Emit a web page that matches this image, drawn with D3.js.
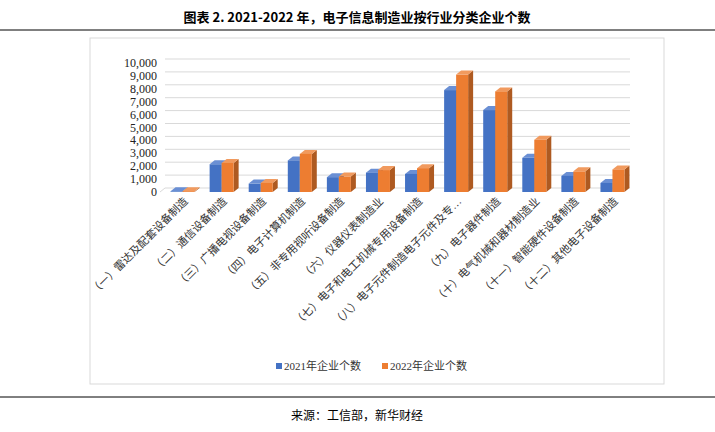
<!DOCTYPE html><html><head><meta charset="utf-8"><script src="https://cdn.jsdelivr.net/npm/d3@7"></script>
<style>body{margin:0;background:#fff}text{font-family:"Liberation Serif","Noto Sans CJK SC",serif}</style></head><body>
<svg id="c" width="715" height="432"></svg>
<script>
const categories=["（一）雷达及配套设备制造","（二）通信设备制造","（三）广播电视设备制造","（四）电子计算机制造","（五）非专用视听设备制造","（六）仪器仪表制造业","（七）电子和电工机械专用设备制造","（八）电子元件制造电子元件及专…","（九）电子器件制造","（十）电气机械和器材制造业","（十一）智能硬件设备制造","（十二）其他电子设备制造"];
const v2021=[50,2150,650,2450,1150,1500,1400,7900,6350,2650,1250,700];
const v2022=[60,2250,700,2950,1200,1700,1850,9100,7800,4050,1600,1750];
const ticks=[0,1000,2000,3000,4000,5000,6000,7000,8000,9000,10000];
const svg=d3.select("#c");
svg.append("text").attr("x",357).attr("y",22).attr("text-anchor","middle").attr("font-size",13).attr("font-weight","bold").style("font-family","Noto Sans CJK SC").text("图表 2.  2021-2022 年，电子信息制造业按行业分类企业个数");
svg.append("line").attr("x1",0).attr("x2",715).attr("y1",30).attr("y2",30).attr("stroke","#000");
svg.append("line").attr("x1",0).attr("x2",715).attr("y1",397).attr("y2",397).attr("stroke","#000");
svg.append("text").attr("x",357).attr("y",420).attr("text-anchor","middle").attr("font-size",12).style("font-family","Noto Sans CJK SC").text("来源：工信部，新华财经");
svg.append("rect").attr("x",90).attr("y",38).attr("width",574).attr("height",346).attr("fill","none").attr("stroke","#d9d9d9");
const y=d3.scaleLinear().domain([0,10000]).range([192,63]);
const x=d3.scaleBand().domain(categories).range([163,632]);
const dx=5,dy=-4;
svg.append("g").selectAll("line").data(ticks).join("line").attr("x1",165).attr("x2",630).attr("y1",d=>y(d)+dy).attr("y2",d=>y(d)+dy).attr("stroke","#d9d9d9");
svg.append("line").attr("x1",160).attr("x2",165).attr("y1",y(0)).attr("y2",y(0)+dy).attr("stroke","#d9d9d9");
svg.append("g").selectAll("text").data(ticks).join("text").attr("x",157).attr("y",d=>y(d)+4).attr("text-anchor","end").attr("font-size",12).attr("fill","#222").text(d=>d3.format(",")(d));
const bw=12;
function bars(vals,off,cf,cs,ct){
 const g=svg.append("g");
 vals.forEach((v,i)=>{
  const x0=x(categories[i])+x.bandwidth()/2-bw+off, y0=y(v), yb=y(0);
  g.append("path").attr("d",`M${x0+bw},${y0}L${x0+bw+dx},${y0+dy}L${x0+bw+dx},${yb+dy}L${x0+bw},${yb}Z`).attr("fill",cs);
  g.append("path").attr("d",`M${x0},${y0}L${x0+dx},${y0+dy}L${x0+bw+dx},${y0+dy}L${x0+bw},${y0}Z`).attr("fill",ct);
  g.append("rect").attr("x",x0).attr("y",y0).attr("width",bw).attr("height",yb-y0).attr("fill",cf);
 });
}
bars(v2021,0,"#4472c4","#2f528f","#6a8fd4");
bars(v2022,bw,"#ed7d31","#ae5a21","#f19a5e");
svg.append("g").selectAll("text").data(categories).join("text")
 .attr("transform",d=>`translate(${x(d)+x.bandwidth()/2+6},${202}) rotate(-45)`).attr("text-anchor","end").attr("font-size",11).attr("fill","#333").text(d=>d);
const lg=svg.append("g").attr("font-size",11);
[["2021年企业个数","#4472c4",276],["2022年企业个数","#ed7d31",382]].forEach(([t,c,lx])=>{
 lg.append("rect").attr("x",lx).attr("y",363).attr("width",6).attr("height",6).attr("fill",c);
 lg.append("text").attr("x",lx+8).attr("y",370).attr("fill","#333").text(t);
});
</script></body></html>
